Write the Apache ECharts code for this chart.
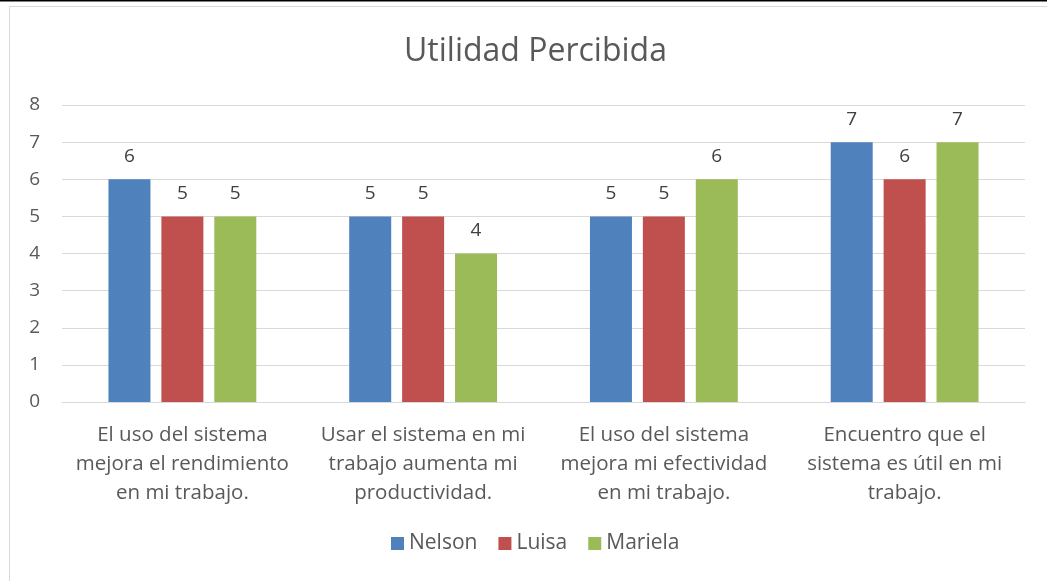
<!DOCTYPE html>
<html>
<head>
<meta charset="utf-8">
<script src="https://cdn.jsdelivr.net/npm/echarts@6/dist/echarts.min.js"></script>
<style>
  html, body { margin: 0; padding: 0; background: #fff; }
  #main { width: 1047px; height: 581px; }
</style>
</head>
<body>
<div id="main"></div>
<script>
const categories = [
  'El uso del sistema\nmejora el rendimiento\nen mi trabajo.',
  'Usar el sistema en mi\ntrabajo aumenta mi\nproductividad.',
  'El uso del sistema\nmejora mi efectividad\nen mi trabajo.',
  'Encuentro que el\nsistema es útil en mi\ntrabajo.'
];
const nelson = [6, 5, 5, 7];
const luisa = [5, 5, 5, 6];
const mariela = [5, 4, 6, 7];
const yTicks = [0, 1, 2, 3, 4, 5, 6, 7, 8];

const FONT = 'Open Sans';
const textColor = '#595959';

const myChart = echarts.init(document.getElementById('main'));

function barSeries(name, data, color) {
  return {
    name: name,
    type: 'bar',
    data: data,
    barWidth: 42,
    barGap: '26%',
    itemStyle: { color: color },
    label: {
      show: true,
      position: 'top',
      distance: 13,
      color: '#404040',
      fontFamily: FONT,
      fontSize: 19
    }
  };
}

myChart.setOption({
  animation: false,
  textStyle: { fontFamily: FONT },
  graphic: [
    { type: 'line', shape: { x1: 0, y1: 0.5, x2: 1047, y2: 0.5 }, style: { stroke: '#000', lineWidth: 2 } },
    { type: 'polyline', shape: { points: [[9.5, 581], [9.5, 6.5], [1047, 6.5]] }, style: { stroke: '#d9d9d9', lineWidth: 1, fill: null } }
  ],
  title: {
    text: 'Utilidad Percibida',
    left: 399,
    top: 31,
    textStyle: { fontFamily: FONT, fontSize: 32, fontWeight: 'normal', color: textColor }
  },
  legend: {
    bottom: 22,
    left: 386,
    itemWidth: 13,
    itemHeight: 13,
    itemGap: 21,
    icon: 'rect',
    textStyle: { fontFamily: FONT, fontSize: 21, color: textColor },
    data: ['Nelson', 'Luisa', 'Mariela']
  },
  grid: { left: 62, right: 22, top: 105, bottom: 179, containLabel: false },
  xAxis: {
    type: 'category',
    data: categories,
    axisTick: { show: false },
    axisLine: { lineStyle: { color: '#d9d9d9', width: 1 } },
    axisLabel: {
      interval: 0,
      margin: 19,
      color: textColor,
      fontFamily: FONT,
      fontSize: 20.5,
      lineHeight: 29
    }
  },
  yAxis: {
    type: 'value',
    min: yTicks[0],
    max: yTicks[yTicks.length - 1],
    interval: 1,
    axisLine: { show: false },
    axisTick: { show: false },
    splitLine: { lineStyle: { color: '#d9d9d9', width: 1 } },
    axisLabel: { margin: 22, color: textColor, fontFamily: FONT, fontSize: 19 }
  },
  series: [
    barSeries('Nelson', nelson, '#4f81bd'),
    barSeries('Luisa', luisa, '#c0504d'),
    barSeries('Mariela', mariela, '#9bbb59')
  ]
});
</script>
</body>
</html>
